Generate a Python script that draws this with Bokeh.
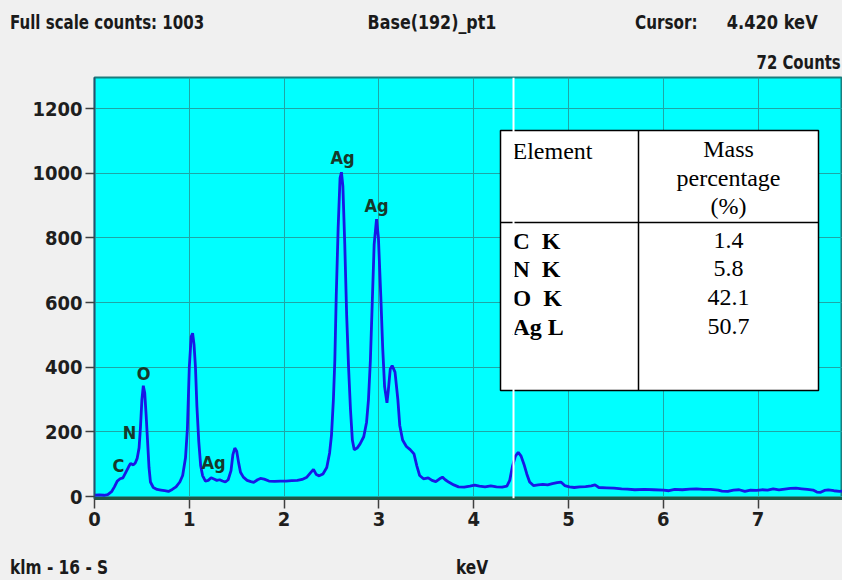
from bokeh.plotting import figure
from bokeh.models import Range1d, FixedTicker, Span, ColumnDataSource, Div
from bokeh.layouts import column
from bokeh.core.properties import value
from bokeh.embed import file_html
from bokeh.resources import INLINE

# ---------------- data ----------------
energy_kev = [0.00, 0.05, 0.10, 0.14, 0.18, 0.21, 0.24, 0.27, 0.30, 0.33, 0.36, 0.38, 0.41, 0.43,
              0.45, 0.47, 0.485, 0.50, 0.515, 0.53, 0.545, 0.56, 0.575, 0.59, 0.62, 0.66, 0.70,
              0.74, 0.78, 0.82, 0.86, 0.90, 0.93, 0.96, 0.98, 1.00, 1.02, 1.035, 1.05, 1.065,
              1.08, 1.10, 1.12, 1.14, 1.17, 1.20, 1.23, 1.26, 1.29, 1.32, 1.35, 1.38, 1.41, 1.44,
              1.46, 1.48, 1.50, 1.52, 1.54, 1.57, 1.61, 1.65, 1.68, 1.72, 1.75, 1.79, 1.84, 1.90,
              1.96, 2.02, 2.08, 2.14, 2.19, 2.24, 2.28, 2.31, 2.34, 2.37, 2.41, 2.45, 2.48, 2.50,
              2.52, 2.535, 2.55, 2.57, 2.59, 2.605, 2.62, 2.64, 2.66, 2.68, 2.70, 2.72, 2.74, 2.77,
              2.80, 2.84, 2.87, 2.89, 2.91, 2.93, 2.95, 2.975, 2.995, 3.02, 3.04, 3.06, 3.085, 3.10,
              3.12, 3.14, 3.17, 3.20, 3.22, 3.25, 3.29, 3.33, 3.37, 3.40, 3.43, 3.47, 3.52, 3.56,
              3.60, 3.64, 3.67, 3.70, 3.74, 3.79, 3.84, 3.90, 3.96, 4.01, 4.06, 4.12, 4.18, 4.24,
              4.30, 4.35, 4.38, 4.41, 4.44, 4.47, 4.50, 4.53, 4.56, 4.59, 4.63, 4.68, 4.73, 4.78,
              4.83, 4.88, 4.92, 4.96, 5.01, 5.06, 5.12, 5.18, 5.24, 5.28, 5.32, 5.40, 5.48, 5.56,
              5.62, 5.70, 5.80, 5.90, 6.00, 6.06, 6.12, 6.20, 6.28, 6.35, 6.42, 6.50, 6.58, 6.62,
              6.68, 6.74, 6.80, 6.86, 6.92, 6.98, 7.04, 7.10, 7.16, 7.22, 7.28, 7.34, 7.40, 7.46,
              7.52, 7.58, 7.62, 7.66, 7.70, 7.74, 7.80, 7.86, 7.90]
counts = [4, 5, 4, 6, 15, 30, 48, 55, 58, 75, 92, 102, 98, 104,
          118, 150, 215, 300, 343, 320, 250, 170, 90, 45, 28, 22, 20,
          18, 16, 22, 30, 45, 65, 120, 210, 400, 495, 505, 470, 400,
          280, 170, 95, 65, 48, 50, 58, 54, 50, 52, 48, 45, 52, 80,
          130, 150, 140, 105, 75, 60, 50, 46, 44, 52, 56, 54, 48, 47,
          48, 48, 49, 50, 53, 60, 74, 84, 68, 64, 70, 90, 135, 190,
          300, 420, 620, 830, 985, 1003, 960, 780, 560, 400, 270, 175, 145, 150,
          162, 185, 230, 300, 420, 600, 780, 858, 800, 620, 460, 340, 290, 330,
          395, 405, 385, 300, 220, 175, 155, 145, 132, 95, 65, 55, 58, 50,
          46, 55, 60, 52, 44, 36, 30, 29, 32, 35, 32, 30, 33, 30,
          29, 32, 50, 95, 125, 137, 125, 100, 70, 45, 34, 36, 38, 36,
          40, 43, 45, 34, 30, 28, 30, 31, 33, 36, 28, 27, 26, 24,
          23, 21, 22, 21, 20, 18, 22, 21, 23, 24, 22, 22, 20, 17,
          16, 20, 21, 16, 20, 19, 21, 20, 24, 21, 23, 25, 26, 24,
          22, 20, 14, 13, 19, 21, 18, 16, 17]

tick_kev = [0, 1, 2, 3, 4, 5, 6, 7]
tick_counts = [0, 200, 400, 600, 800, 1000, 1200]

peak_labels = ["C", "N", "O", "Ag", "Ag", "Ag"]
peak_label_kev = [0.253, 0.37, 0.517, 1.255, 2.616, 2.975]
peak_label_counts = [96, 198, 380, 105, 1049, 900]

table_elements = ["C\u00a0\u00a0K", "N\u00a0\u00a0K", "O\u00a0\u00a0K", "Ag\u00a0L"]
table_mass_pct = ["1.4", "5.8", "42.1", "50.7"]

full_scale_counts = 1003
spectrum_name = "Base(192)_pt1"
cursor_kev = 4.420
cursor_counts = 72
detector_label = "klm - 16 - S"
x_unit = "keV"

# ---------------- layout ----------------
PAGE_W = 842
HEAD_H, FOOT_H = 69, 25
W, H = PAGE_W, 486
FL, FR, FT, FB = 94, 0, 8, 57
FW, FH = W - FL - FR, H - FT - FB
PX_PER_KEV = 94.8
X_MIN, X_MAX = 0.0, FW / PX_PER_KEV
Y_MIN, Y_MAX = -6.0, 1296.0
FRAME_LEFT, FRAME_TOP = FL, HEAD_H + FT


def dx(px):
    return X_MIN + (px - FRAME_LEFT) * (X_MAX - X_MIN) / FW


def dy(py):
    return Y_MAX - (py - FRAME_TOP) * (Y_MAX - Y_MIN) / FH


COND = "'DejaVu Sans Condensed', 'Liberation Sans Narrow', Roboto, sans-serif"
SERIF = "Liberation Serif"
BG = "#f0f0f0"

p = figure(width=W, height=H, x_range=Range1d(X_MIN, X_MAX), y_range=Range1d(Y_MIN, Y_MAX),
           output_backend="svg", toolbar_location=None, margin=0,
           min_border_left=FL, min_border_right=FR, min_border_top=FT, min_border_bottom=FB)
p.background_fill_color = "#00ffff"
p.border_fill_color = BG
p.outline_line_color = "#1b7d7d"
p.outline_line_width = 2

# grid
p.xgrid.ticker = FixedTicker(ticks=tick_kev)
p.ygrid.ticker = FixedTicker(ticks=tick_counts)
for g in (p.xgrid, p.ygrid):
    g.grid_line_color = "#1fa6a6"
    g.grid_line_width = 1

# axes
p.xaxis.ticker = FixedTicker(ticks=tick_kev)
p.yaxis.ticker = FixedTicker(ticks=tick_counts)
for ax in (p.xaxis, p.yaxis):
    ax.major_label_text_font = COND
    ax.major_label_text_font_size = "20px"
    ax.major_label_text_font_style = "bold"
    ax.major_label_text_color = "#1e1e1e"
    ax.major_tick_in = 0
    ax.minor_tick_line_color = None
    ax.major_tick_line_color = "#404040"
    ax.major_tick_line_width = 1.5
p.xaxis.major_tick_out = 10
p.yaxis.major_tick_out = 9
p.xaxis.major_label_standoff = 3
p.yaxis.major_label_standoff = 3
p.xaxis.axis_line_color = "#1e5a46"
p.xaxis.axis_line_width = 3
p.yaxis.axis_line_color = "#2b4f6f"
p.yaxis.axis_line_width = 1.5

# spectrum
src = ColumnDataSource(dict(x=energy_kev, y=counts))
p.line("x", "y", source=src, line_color="#1818e6", line_width=2.8)

# cursor
p.add_layout(Span(location=cursor_kev, dimension="height", line_color="white", line_width=2))

# peak labels
lsrc = ColumnDataSource(dict(x=peak_label_kev, y=peak_label_counts, t=peak_labels))
p.text("x", "y", text="t", source=lsrc, text_align="center", text_baseline="middle",
       text_font=value(COND), text_font_style="bold", text_font_size="18px", text_color="#17382a")

# table
TL, TR, TT, TB = 500, 818, 130, 390
p.quad(left=[dx(TL)], right=[dx(TR)], top=[dy(TT)], bottom=[dy(TB)],
       fill_color="white", line_color="black", line_width=1.5)
p.segment(x0=[dx(TL), dx(638)], y0=[dy(222), dy(TT)], x1=[dx(TR), dx(638)], y1=[dy(222), dy(TB)],
          line_color="black", line_width=1.5)
TFS = "24px"
p.text(x=[dx(512)], y=[dy(150)], text=["Element"], text_align="left", text_baseline="middle",
       text_font=value(SERIF), text_font_size=TFS, text_color="black")
p.text(x=[dx(728)] * 3, y=[dy(148), dy(177), dy(205)], text=["Mass", "percentage", "(%)"],
       text_align="center", text_baseline="middle",
       text_font=value(SERIF), text_font_size=TFS, text_color="black")
row_y = [dy(240), dy(268), dy(297), dy(326)]
p.text(x=[dx(512)] * 4, y=row_y, text=table_elements, text_align="left", text_baseline="middle",
       text_font=value(SERIF), text_font_style="bold", text_font_size=TFS, text_color="black")
p.text(x=[dx(728)] * 4, y=row_y, text=table_mass_pct, text_align="center", text_baseline="middle",
       text_font=value(SERIF), text_font_size=TFS, text_color="black")

# header / footer texts (outside the plot frame)
SPAN = ("position:absolute;white-space:nowrap;font-family:{f};font-weight:bold;"
        "font-size:19px;line-height:20px;color:#1a1a1a;").format(f=COND.replace("'", ""))


def span(txt, top, left=None, right=None, center=None, sx=0.9):
    if center is not None:
        pos = f"left:{center}px;transform:translateX(-50%) scaleX({sx});transform-origin:center;"
    elif right is not None:
        pos = f"right:{right}px;transform:scaleX({sx});transform-origin:right;"
    else:
        pos = f"left:{left}px;transform:scaleX({sx});transform-origin:left;"
    return f'<span style="{SPAN}top:{top}px;{pos}">{txt}</span>'


head_html = (f'<div style="position:relative;width:{PAGE_W}px;height:{HEAD_H + 1}px;background:{BG};">'
             + span(f"Full scale counts: {full_scale_counts}", 12, left=10, sx=0.88)
             + span(spectrum_name, 12, center=432, sx=0.93)
             + span("Cursor:", 12, left=635, sx=0.89)
             + span(f"{cursor_kev:.3f} keV", 12, right=PAGE_W - 818, sx=0.95)
             + span(f"{cursor_counts} Counts", 52, right=1, sx=0.87)
             + '</div>')
foot_html = (f'<div style="position:relative;width:{PAGE_W}px;height:{FOOT_H}px;background:{BG};">'
             + span(detector_label, 2, left=10, sx=0.9)
             + span(x_unit, 2, center=472, sx=0.9)
             + '</div>')
head = Div(text=head_html, width=PAGE_W, height=HEAD_H, margin=0,
           styles={"background-color": BG, "overflow": "visible"})
foot = Div(text=foot_html, width=PAGE_W, height=FOOT_H, margin=0,
           styles={"background-color": BG})

layout = column(head, p, foot, spacing=0, margin=0, styles={"background-color": BG})
open("out.html", "w").write(file_html(layout, INLINE))
